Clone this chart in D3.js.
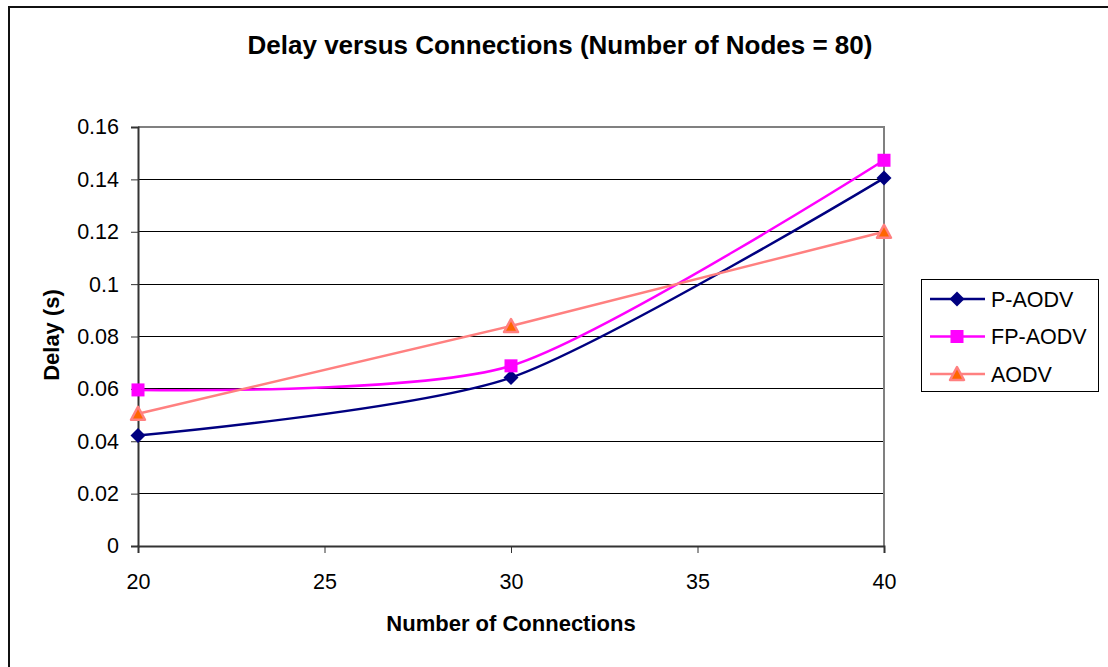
<!DOCTYPE html>
<html><head><meta charset="utf-8">
<script src="https://cdn.jsdelivr.net/npm/d3@7"></script>
<style>html,body{margin:0;padding:0;background:#fff;}svg{display:block;font-family:Arial,"Liberation Sans",sans-serif;}</style>
</head><body>
<svg id="c" width="1108" height="667"></svg>
<script>
const connections = [20, 30, 40];
const pAODV = [0.0422, 0.0643, 0.1405];
const fpAODV = [0.0596, 0.0688, 0.1473];
const aODV = [0.0505, 0.0840, 0.1200];
const xTicks = [20, 25, 30, 35, 40];
const yTicks = [0, 0.02, 0.04, 0.06, 0.08, 0.1, 0.12, 0.14, 0.16];
const seriesNames = ["P-AODV", "FP-AODV", "AODV"];

const svg = d3.select("#c");
const L = 138, R = 884, T = 127, B = 546;
const x = d3.scaleLinear().domain([20, 40]).range([L, R]);
const y = d3.scaleLinear().domain([0, 0.16]).range([B, T]);
const FONT = "Arial, 'Liberation Sans', sans-serif";

// outer border
svg.append("rect").attr("x", 9).attr("y", 7).attr("width", 1120).attr("height", 700)
  .attr("fill", "none").attr("stroke", "#111").attr("stroke-width", 2);

// title
svg.append("text").attr("x", 560).attr("y", 54).attr("text-anchor", "middle")
  .attr("font-weight", "bold").attr("font-size", 26).text("Delay versus Connections (Number of Nodes = 80)");

// gridlines
svg.append("g").selectAll("line").data(yTicks.filter(d => d > 0 && d < 0.16)).join("line")
  .attr("x1", L).attr("x2", R).attr("y1", d => y(d)).attr("y2", d => y(d))
  .attr("stroke", "#000").attr("stroke-width", 1).attr("shape-rendering", "crispEdges");

// plot border top/right gray
svg.append("path").attr("d", `M${L},${T}H${R}V${B}`).attr("fill", "none")
  .attr("stroke", "#808080").attr("stroke-width", 2);

// axes
const yAxis = d3.axisLeft(y).tickValues(yTicks).tickSize(7).tickPadding(12)
  .tickFormat(d => d === 0 ? "0" : String(+d.toFixed(2)));
const gy = svg.append("g").attr("transform", `translate(${L},0)`).call(yAxis);
const xAxis = d3.axisBottom(x).tickValues(xTicks).tickSize(7).tickPadding(21).tickFormat(d3.format("d"));
const gx = svg.append("g").attr("transform", `translate(0,${B})`).call(xAxis);
[gx, gy].forEach(g => {
  g.select(".domain").attr("stroke", "#333").attr("stroke-width", 2);
  g.selectAll(".tick line").attr("stroke", "#333").attr("stroke-width", 1);
  g.selectAll("text").attr("font-size", 21.5).attr("fill", "#000").attr("font-family", FONT);
});

// axis titles
svg.append("text").attr("x", 511).attr("y", 631).attr("text-anchor", "middle")
  .attr("font-weight", "bold").attr("font-size", 22).text("Number of Connections");
svg.append("text").attr("transform", "translate(59,335) rotate(-90)").attr("text-anchor", "middle")
  .attr("font-weight", "bold").attr("font-size", 22).text("Delay (s)");

const curveSmooth = d3.curveCardinal.tension(0.25);
const series = [
  {name: seriesNames[0], vals: pAODV, color: "#000080", curve: curveSmooth, marker: "diamond"},
  {name: seriesNames[1], vals: fpAODV, color: "#FF00FF", curve: curveSmooth, marker: "square"},
  {name: seriesNames[2], vals: aODV, color: "#FF8080", curve: d3.curveLinear, marker: "triangle"}
];

function drawMarker(g, type, cx, cy) {
  if (type === "diamond") {
    g.append("path").attr("d", `M${cx},${cy-7.5}L${cx+7.5},${cy}L${cx},${cy+7.5}L${cx-7.5},${cy}Z`).attr("fill", "#000080");
  } else if (type === "square") {
    g.append("rect").attr("x", cx-6.5).attr("y", cy-6.5).attr("width", 13).attr("height", 13).attr("fill", "#FF00FF");
  } else {
    g.append("path").attr("d", `M${cx},${cy-7}L${cx+7},${cy+6}L${cx-7},${cy+6}Z`)
      .attr("fill", "#FF6600").attr("stroke", "#FF8080").attr("stroke-width", 2.5).attr("stroke-linejoin", "round");
  }
}

const plot = svg.append("g");
series.forEach(s => {
  const pts = connections.map((c, i) => [x(c), y(s.vals[i])]);
  plot.append("path").attr("d", d3.line().curve(s.curve)(pts)).attr("fill", "none")
    .attr("stroke", s.color).attr("stroke-width", 2.5);
});
series.forEach(s => {
  connections.forEach((c, i) => drawMarker(plot, s.marker, x(c), y(s.vals[i])));
});

// legend
const lg = svg.append("g");
lg.append("rect").attr("x", 921.5).attr("y", 279.5).attr("width", 177).attr("height", 112)
  .attr("fill", "#fff").attr("stroke", "#000").attr("stroke-width", 1);
series.forEach((s, i) => {
  const cy = 299 + i * 37.5;
  lg.append("line").attr("x1", 930).attr("x2", 985).attr("y1", cy).attr("y2", cy)
    .attr("stroke", s.color).attr("stroke-width", 2.5);
  drawMarker(lg, s.marker, 957, cy);
  lg.append("text").attr("x", 991).attr("y", cy + 7.5).attr("font-size", 21.5).text(s.name);
});
</script>
</body></html>
